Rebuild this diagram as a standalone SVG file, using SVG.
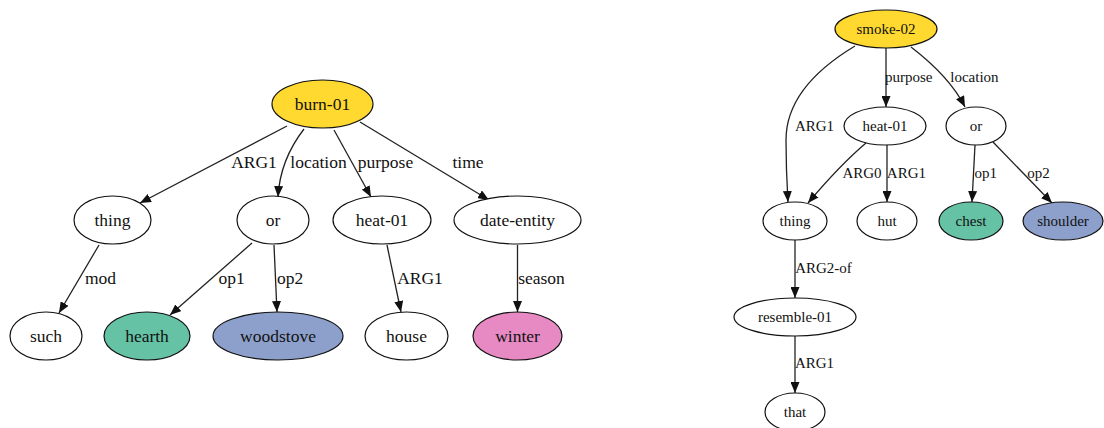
<svg xmlns="http://www.w3.org/2000/svg" width="1104" height="428" viewBox="0 0 1104 428">
<style>
  .n ellipse { stroke: #111; stroke-width: 1.2; fill: #fff; }
  .n text { font-family: "Liberation Serif", "Times New Roman", serif; text-anchor: middle; dominant-baseline: central; fill: #111; }
  .L text { font-size: 17.5px; }
  .R text { font-size: 15px; }
  .e path { fill: none; stroke: #222; stroke-width: 1.3; marker-end: url(#arr); }
  .lbl { font-family: "Liberation Serif", "Times New Roman", serif; fill: #111; text-anchor: middle; dominant-baseline: central; }
  .lL { font-size: 17.5px; }
  .lR { font-size: 15px; }
  .yellow { fill: #ffd92f !important; }
  .green { fill: #66c2a5 !important; }
  .blue { fill: #8da0cb !important; }
  .pink { fill: #e78ac3 !important; }
</style>
<defs>
  <marker id="arr" markerUnits="userSpaceOnUse" markerWidth="11" markerHeight="9" refX="11" refY="4.5" orient="auto">
    <path d="M0,0 L11,4.5 L0,9 z" fill="#111"/>
  </marker>
</defs>
<rect width="1104" height="428" fill="#fff"/>

<g id="connectors" class="e">
  <path d="M287,126 L140,203"/>
  <path d="M304,129 Q280,160 278,197"/>
  <path d="M334,130 L371,197"/>
  <path d="M360,122 L489,200"/>
  <path d="M99,245 L59,313"/>
  <path d="M252,243 L170,315"/>
  <path d="M274,245 L277,312"/>
  <path d="M387,245 L401,312"/>
  <path d="M517.5,245 L517.5,312"/>

  <path d="M855,46 C815,70 786,100 786,140 C786,170 787,185 788,202"/>
  <path d="M886,48 L886,107"/>
  <path d="M911,47 Q950,77 965,107"/>
  <path d="M866,143 Q840,165 808,203"/>
  <path d="M887,145 L887,202"/>
  <path d="M975,145 L972,202"/>
  <path d="M993,142 L1052,203"/>
  <path d="M795,240 L795,298"/>
  <path d="M795,336 L795,393"/>
</g>

<g id="edge-labels">
  <text class="lbl lL" x="254" y="162">ARG1</text>
  <text class="lbl lL" x="318.5" y="162">location</text>
  <text class="lbl lL" x="385.5" y="162">purpose</text>
  <text class="lbl lL" x="468" y="162">time</text>
  <text class="lbl lL" x="100.5" y="278">mod</text>
  <text class="lbl lL" x="231.5" y="278">op1</text>
  <text class="lbl lL" x="290" y="278">op2</text>
  <text class="lbl lL" x="420" y="278">ARG1</text>
  <text class="lbl lL" x="541.5" y="278">season</text>

  <text class="lbl lR" x="908.7" y="77">purpose</text>
  <text class="lbl lR" x="974.4" y="77">location</text>
  <text class="lbl lR" x="814.5" y="126">ARG1</text>
  <text class="lbl lR" x="862" y="173">ARG0</text>
  <text class="lbl lR" x="906.4" y="173">ARG1</text>
  <text class="lbl lR" x="985.8" y="173">op1</text>
  <text class="lbl lR" x="1038.5" y="173">op2</text>
  <text class="lbl lR" x="823.5" y="268">ARG2-of</text>
  <text class="lbl lR" x="814.5" y="363">ARG1</text>
</g>

<g id="burn-01" class="n L"><ellipse class="yellow" cx="322.5" cy="104" rx="50.5" ry="24"/><text x="322.5" y="104">burn-01</text></g>
<g id="thing-L" class="n L"><ellipse cx="112.5" cy="220" rx="38.5" ry="24"/><text x="112.5" y="220">thing</text></g>
<g id="or-L" class="n L"><ellipse cx="273" cy="220" rx="36" ry="24"/><text x="273" y="220">or</text></g>
<g id="heat-01-L" class="n L"><ellipse cx="382" cy="220" rx="49" ry="24"/><text x="382" y="220">heat-01</text></g>
<g id="date-entity" class="n L"><ellipse cx="517.5" cy="220" rx="63.5" ry="24"/><text x="517.5" y="220">date-entity</text></g>
<g id="such" class="n L"><ellipse cx="46" cy="336" rx="36" ry="24"/><text x="46" y="336">such</text></g>
<g id="hearth" class="n L"><ellipse class="green" cx="147" cy="336" rx="43" ry="24"/><text x="147" y="336">hearth</text></g>
<g id="woodstove" class="n L"><ellipse class="blue" cx="278" cy="336" rx="65" ry="24"/><text x="278" y="336">woodstove</text></g>
<g id="house" class="n L"><ellipse cx="406.5" cy="336" rx="41.5" ry="24"/><text x="406.5" y="336">house</text></g>
<g id="winter" class="n L"><ellipse class="pink" cx="517.5" cy="336" rx="44.5" ry="24"/><text x="517.5" y="336">winter</text></g>

<g id="smoke-02" class="n R"><ellipse class="yellow" cx="886" cy="29" rx="51" ry="19"/><text x="886" y="29">smoke-02</text></g>
<g id="heat-01-R" class="n R"><ellipse cx="885" cy="126" rx="41" ry="19"/><text x="885" y="126">heat-01</text></g>
<g id="or-R" class="n R"><ellipse cx="976" cy="126" rx="30" ry="19"/><text x="976" y="126">or</text></g>
<g id="thing-R" class="n R"><ellipse cx="795" cy="221" rx="32" ry="19"/><text x="795" y="221">thing</text></g>
<g id="hut" class="n R"><ellipse cx="887" cy="221" rx="30" ry="19"/><text x="887" y="221">hut</text></g>
<g id="chest" class="n R"><ellipse class="green" cx="971" cy="221" rx="32" ry="19"/><text x="971" y="221">chest</text></g>
<g id="shoulder" class="n R"><ellipse class="blue" cx="1063" cy="221" rx="40" ry="19"/><text x="1063" y="221">shoulder</text></g>
<g id="resemble-01" class="n R"><ellipse cx="795" cy="317" rx="61" ry="19"/><text x="795" y="317">resemble-01</text></g>
<g id="that" class="n R"><ellipse cx="795" cy="412" rx="30" ry="19"/><text x="795" y="412">that</text></g>
</svg>
